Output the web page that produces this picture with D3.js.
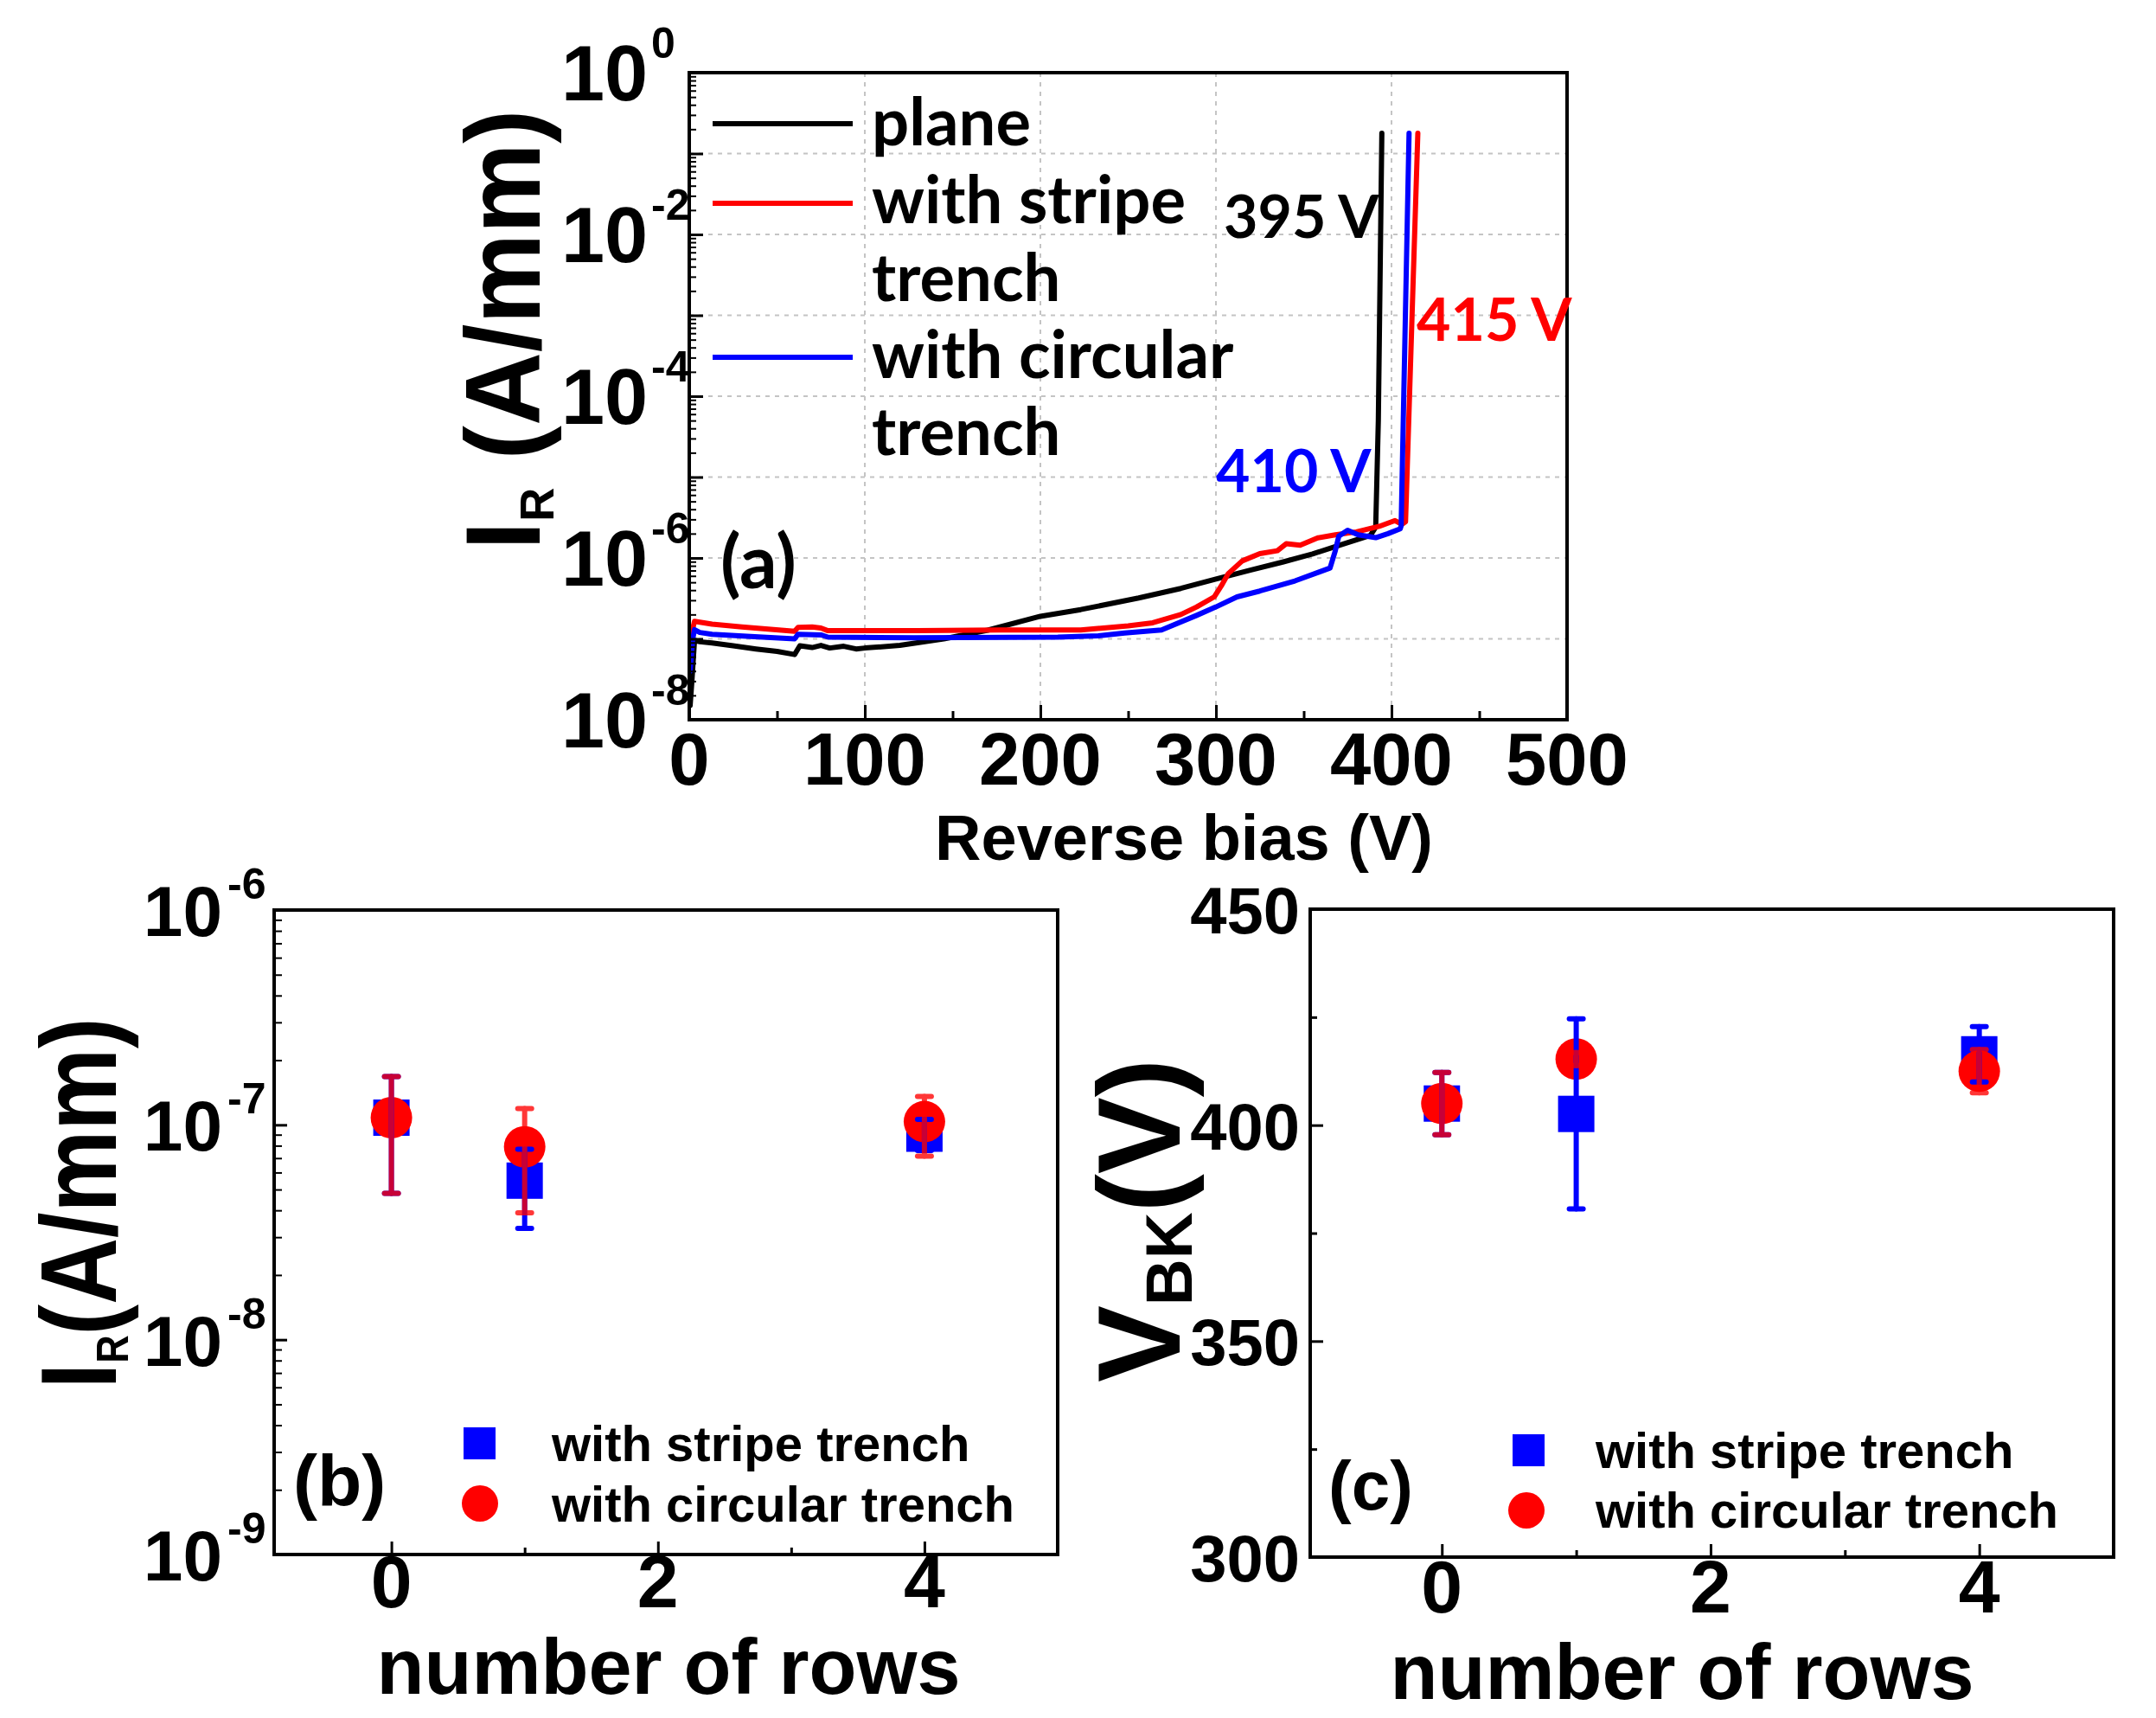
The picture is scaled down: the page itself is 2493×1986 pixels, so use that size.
<!DOCTYPE html>
<html><head><meta charset="utf-8">
<script src="https://cdn.jsdelivr.net/npm/d3@7"></script>
<style>body{margin:0;background:#fff}</style>
</head><body>
<script>
// ---------------- DATA ----------------
// Panel (a): reverse bias (V) vs reverse current I_R (A/mm)
const planeIV = [[0.5,1.5e-8],[1.5,3e-8],[3,9.6e-8],[6,9.2e-8],[13,8.9e-8],[25,8.2e-8],[38,7.5e-8],[50,7e-8],[60,6.4e-8],[63,8.2e-8],[70,7.8e-8],[75,8.3e-8],[80,7.7e-8],[88,8.1e-8],[95,7.5e-8],[100,7.7e-8],[120,8.3e-8],[145,1.0e-7],[170,1.28e-7],[200,1.9e-7],[223,2.3e-7],[256,3.2e-7],[280,4.2e-7],[300,5.5e-7],[320,7.1e-7],[338,8.9e-7],[355,1.12e-6],[371,1.45e-6],[388,1.9e-6],[391,2.4e-6],[392.5,5e-5],[394.5,0.178]];
const stripeIV = [[1.5,1.2e-7],[3,1.65e-7],[13,1.52e-7],[30,1.4e-7],[45,1.32e-7],[60,1.24e-7],[62,1.39e-7],[70,1.4e-7],[75,1.36e-7],[79,1.26e-7],[100,1.26e-7],[130,1.26e-7],[177,1.29e-7],[223,1.29e-7],[250,1.45e-7],[264,1.58e-7],[280,2.0e-7],[289,2.48e-7],[299,3.3e-7],[303,4.5e-7],[307,6.4e-7],[315,9.2e-7],[325,1.13e-6],[335,1.23e-6],[340,1.5e-6],[348,1.44e-6],[358,1.77e-6],[368,1.93e-6],[380,2.1e-6],[393,2.46e-6],[402,2.9e-6],[406,2.6e-6],[408,2.8e-6],[415,0.178]];
const circularIV = [[0.5,4e-8],[2,1e-7],[3,1.3e-7],[6,1.2e-7],[13,1.14e-7],[35,1.07e-7],[60,1.0e-7],[62,1.14e-7],[75,1.12e-7],[79,1.05e-7],[128,1.03e-7],[210,1.05e-7],[233,1.09e-7],[248,1.18e-7],[269,1.29e-7],[289,1.95e-7],[300,2.48e-7],[312,3.3e-7],[325,3.9e-7],[345,5.2e-7],[365,7.5e-7],[368,1.23e-6],[370,1.86e-6],[375,2.2e-6],[381,1.93e-6],[391,1.78e-6],[398,2.0e-6],[405,2.3e-6],[405.5,2.5e-6],[410,0.178]];
const seriesNamesA = [["plane"],["with stripe","trench"],["with circular","trench"]];
const breakdownLabels = ["395 V","415 V","410 V"];
const xTicksA = [0,100,200,300,400,500];
const yExpA = [0,-2,-4,-6,-8];

// Panels (b), (c): number of rows
const rows = [0,1,4];
const stripeIR = [1.08e-7,5.5e-8,9.1e-8];
const stripeIRErr = [6e-8,2.2e-8,1.5e-8];
const circularIR = [1.08e-7,7.9e-8,1.035e-7];
const circularIRErr = [6e-8,4e-8,3.2e-8];
const stripeVBK = [405,402.6,416.4];
const stripeVBKErr = [7.2,22,6.4];
const circularVBK = [405,415.3,412.5];
const circularVBKErr = [7.2,1.5,5];
const xTicksBC = [0,2,4];
const yExpB = [-6,-7,-8,-9];
const yTicksC = [300,350,400,450];
const legendBC = ["with stripe trench","with circular trench"];

// ---------------- STYLE ----------------
const ARIAL = "'Liberation Sans', Arial, sans-serif";
const CAL = "Lato, 'Open Sans', sans-serif";
const BLUE = "#0000ff", RED = "#ff0000";

const svg = d3.select("body").append("svg").attr("width",2493).attr("height",1986)
  .style("background","#fff");

function text(x,y,s,fs,opts={}){
  const t = svg.append("text").attr("x",x).attr("y",y).text(s)
    .attr("font-family",opts.family||ARIAL).attr("font-weight","bold")
    .attr("font-size",fs).attr("fill",opts.fill||"#000")
    .attr("text-anchor",opts.anchor||"start");
  return t;
}
function yLabel(cx,cy,parts,fs,target){
  const g = svg.append("g").attr("transform",`translate(${cx},${cy}) rotate(-90)`);
  const t = g.append("text").attr("text-anchor","middle").attr("font-family",ARIAL)
    .attr("font-weight","bold").attr("font-size",fs).style("white-space","pre");
  let shift = 0;
  parts.forEach(p=>{
    const ts = t.append("tspan").text(p.s);
    if(p.sub){ ts.attr("font-size",fs*p.size).attr("dy",p.shift - shift); shift = p.shift; }
    else if(shift){ ts.attr("dy",-shift); shift = 0; }
  });
  const w = t.node().getComputedTextLength();
  t.attr("transform",`scale(${target/w},1)`);
}
function styleTicks(g,w){
  g.select(".domain").remove();
  g.selectAll(".tick line").attr("stroke","#000").attr("stroke-width",w);
}
function logMinor(lo,hi){
  const out=[];
  for(let e=lo;e<hi;e++) for(let k=2;k<=9;k++) out.push(k*Math.pow(10,e));
  return out;
}

// ================= PANEL (a) =================
const A = {l:797,r:1812,t:84,b:832};
const xA = d3.scaleLinear().domain([0,500]).range([A.l,A.r]);
const yA = d3.scaleLog().domain([1e-8,1]).range([A.b,A.t]);

const gridA = svg.append("g").attr("stroke","#c4c4c4").attr("stroke-width",2).attr("stroke-dasharray","5,6");
[1e-7,1e-6,1e-5,1e-4,1e-3,1e-2,1e-1].forEach(v=>gridA.append("line").attr("x1",A.l).attr("x2",A.r).attr("y1",yA(v)).attr("y2",yA(v)));
[100,200,300,400].forEach(v=>gridA.append("line").attr("x1",xA(v)).attr("x2",xA(v)).attr("y1",A.t).attr("y2",A.b));

const lineA = d3.line().x(d=>xA(d[0])).y(d=>yA(d[1]));
[[planeIV,"#000"],[stripeIV,RED],[circularIV,BLUE]].forEach(([d,c])=>{
  svg.append("path").datum(d).attr("d",lineA).attr("fill","none").attr("stroke",c)
    .attr("stroke-width",6).attr("stroke-linejoin","round").attr("stroke-linecap","round");
});

svg.append("g").attr("transform",`translate(0,${A.b})`)
  .call(d3.axisBottom(xA).tickValues(xTicksA).tickSize(-17).tickFormat("").tickSizeOuter(0)).call(g=>styleTicks(g,3));
svg.append("g").attr("transform",`translate(0,${A.b})`)
  .call(d3.axisBottom(xA).tickValues([50,150,250,350,450]).tickSize(-10).tickFormat("").tickSizeOuter(0)).call(g=>styleTicks(g,3));
svg.append("g").attr("transform",`translate(${A.l},0)`)
  .call(d3.axisLeft(yA).tickValues(d3.range(-8,1).map(e=>Math.pow(10,e))).tickSize(-16).tickFormat("").tickSizeOuter(0)).call(g=>styleTicks(g,3));
svg.append("g").attr("transform",`translate(${A.l},0)`)
  .call(d3.axisLeft(yA).tickValues(logMinor(-8,0)).tickSize(-8).tickFormat("").tickSizeOuter(0)).call(g=>styleTicks(g,2));

xTicksA.forEach(v=>text(xA(v),907,String(v),85,{anchor:"middle"}));
yExpA.forEach(e=>{
  const y = yA(Math.pow(10,e));
  text(A.l-48,y+32,"10",90,{anchor:"end"});
  text(A.l-44,y-17,e===0?"0":"-"+(-e),50);
});
svg.append("rect").attr("x",A.l).attr("y",A.t).attr("width",A.r-A.l).attr("height",A.b-A.t)
  .attr("fill","none").attr("stroke","#000").attr("stroke-width",4);

text(1369,994,"Reverse bias (V)",74,{anchor:"middle"});
yLabel(624,381,[{s:"I"},{s:"R",sub:true,size:0.46,shift:16},{s:" (A/mm)"}],122,509);

const legColors = ["#000",RED,BLUE];
const legLineY = [143,235,413];
const legTextY = [[168],[258,348],[437,526]];
seriesNamesA.forEach((lines,i)=>{
  svg.append("line").attr("x1",824).attr("x2",986).attr("y1",legLineY[i]).attr("y2",legLineY[i])
    .attr("stroke",legColors[i]).attr("stroke-width",6);
  lines.forEach((s,j)=>text(1008,legTextY[i][j],s,76,{family:CAL}));
});
text(1415,275,breakdownLabels[0],68,{family:CAL,fill:"#000"});
text(1638,394,breakdownLabels[1],68,{family:CAL,fill:RED});
text(1406,569,breakdownLabels[2],68,{family:CAL,fill:BLUE});
text(833,680,"(a)",86,{family:CAL});

// ================= PANELS (b) & (c) =================
function scatterPanel(P,xS,yS,sq,sqErr,ci,ciErr){
  const g = svg.append("g");
  g.selectAll(".sq").data(rows).enter().append("rect")
    .attr("x",(d)=>xS(d)-21).attr("y",(d,i)=>yS(sq[i])-21).attr("width",42).attr("height",42).attr("fill",BLUE);
  g.selectAll(".ci").data(rows).enter().append("circle")
    .attr("cx",d=>xS(d)).attr("cy",(d,i)=>yS(ci[i])).attr("r",24).attr("fill",RED);
  const eb = (vals,errs,color,op)=>{
    rows.forEach((r,i)=>{
      const x = xS(r), y1 = yS(vals[i]-errs[i]), y2 = yS(vals[i]+errs[i]);
      const eg = g.append("g").attr("stroke",color).attr("stroke-width",6).attr("stroke-linecap","round").attr("opacity",op);
      eg.append("line").attr("x1",x).attr("x2",x).attr("y1",y1).attr("y2",y2);
      eg.append("line").attr("x1",x-8).attr("x2",x+8).attr("y1",y1).attr("y2",y1);
      eg.append("line").attr("x1",x-8).attr("x2",x+8).attr("y1",y2).attr("y2",y2);
    });
  };
  eb(sq,sqErr,BLUE,1);
  eb(ci,ciErr,RED,0.78);
  svg.append("g").attr("transform",`translate(0,${P.b})`)
    .call(d3.axisBottom(xS).tickValues(xTicksBC).tickSize(-15).tickFormat("").tickSizeOuter(0)).call(g=>styleTicks(g,3));
  svg.append("g").attr("transform",`translate(0,${P.b})`)
    .call(d3.axisBottom(xS).tickValues([1,3]).tickSize(-8).tickFormat("").tickSizeOuter(0)).call(g=>styleTicks(g,3));
  svg.append("rect").attr("x",P.l).attr("y",P.t).attr("width",P.r-P.l).attr("height",P.b-P.t)
    .attr("fill","none").attr("stroke","#000").attr("stroke-width",4);
}

const B = {l:317,r:1223,t:1052,b:1797};
const xB = d3.scaleLinear().domain([-0.88,5]).range([B.l,B.r]);
const yB = d3.scaleLog().domain([1e-9,1e-6]).range([B.b,B.t]);
scatterPanel(B,xB,yB,stripeIR,stripeIRErr,circularIR,circularIRErr);
svg.append("g").attr("transform",`translate(${B.l},0)`)
  .call(d3.axisLeft(yB).tickValues([1e-9,1e-8,1e-7,1e-6]).tickSize(-15).tickFormat("").tickSizeOuter(0)).call(g=>styleTicks(g,3));
svg.append("g").attr("transform",`translate(${B.l},0)`)
  .call(d3.axisLeft(yB).tickValues(logMinor(-9,-6)).tickSize(-9).tickFormat("").tickSizeOuter(0)).call(g=>styleTicks(g,2));
xTicksBC.forEach(v=>text(xB(v),1858,String(v),86,{anchor:"middle"}));
yExpB.forEach(e=>{
  const y = yB(Math.pow(10,e));
  text(B.l-60,y+30,"10",82,{anchor:"end"});
  text(B.l-54,y-13,"-"+(-e),50);
});
text(773,1958,"number of rows",90,{anchor:"middle"});
yLabel(134,1391,[{s:"I"},{s:"R",sub:true,size:0.42,shift:14},{s:"(A/mm)"}],125,429);
svg.append("rect").attr("x",536).attr("y",1650).attr("width",37).attr("height",37).attr("fill",BLUE);
svg.append("circle").attr("cx",555).attr("cy",1738).attr("r",21).attr("fill",RED);
text(638,1689,legendBC[0],58);
text(638,1759,legendBC[1],58);
text(339,1741,"(b)",84);

const C = {l:1515,r:2444,t:1051,b:1800};
const xC = d3.scaleLinear().domain([-0.98,5]).range([C.l,C.r]);
const yC = d3.scaleLinear().domain([300,450]).range([C.b,C.t]);
scatterPanel(C,xC,yC,stripeVBK,stripeVBKErr,circularVBK,circularVBKErr);
svg.append("g").attr("transform",`translate(${C.l},0)`)
  .call(d3.axisLeft(yC).tickValues(yTicksC).tickSize(-15).tickFormat("").tickSizeOuter(0)).call(g=>styleTicks(g,3));
svg.append("g").attr("transform",`translate(${C.l},0)`)
  .call(d3.axisLeft(yC).tickValues([325,375,425]).tickSize(-8).tickFormat("").tickSizeOuter(0)).call(g=>styleTicks(g,3));
xTicksBC.forEach(v=>text(xC(v),1864,String(v),86,{anchor:"middle"}));
yTicksC.forEach(v=>text(C.l-12,yC(v)+28,String(v),76,{anchor:"end"}));
text(1945,1964,"number of rows",90,{anchor:"middle"});
yLabel(1364,1411,[{s:"V"},{s:"BK",sub:true,size:0.56,shift:14},{s:"(V)"}],135,374);
svg.append("rect").attr("x",1749).attr("y",1658).attr("width",37).attr("height",37).attr("fill",BLUE);
svg.append("circle").attr("cx",1765).attr("cy",1746).attr("r",21).attr("fill",RED);
text(1845,1697,legendBC[0],58);
text(1845,1766,legendBC[1],58);
text(1536,1745,"(c)",80);
</script>
</body></html>
